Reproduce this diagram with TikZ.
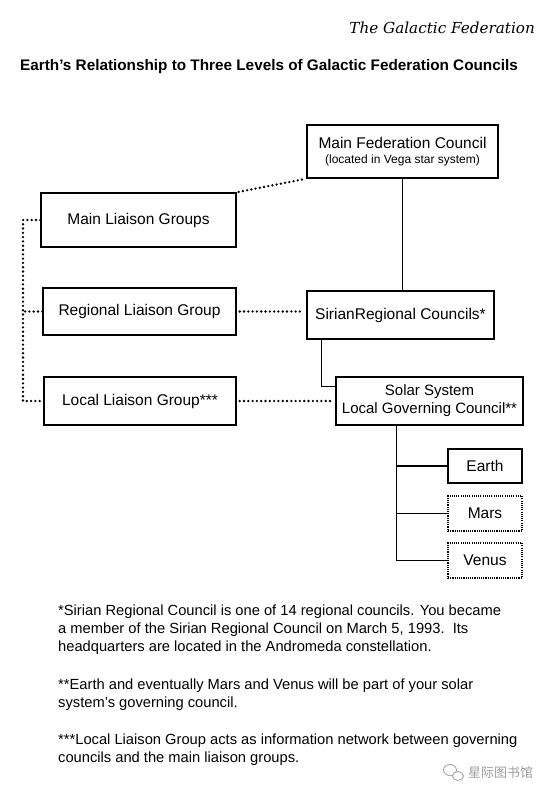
\documentclass[tikz,border=0pt]{standalone}
\usepackage{fontspec}
\setmainfont{Liberation Sans}
\newfontfamily\hdrfont{DejaVu Serif}
\newfontfamily\cjkfont{Noto Sans CJK SC}
\usetikzlibrary{calc}
\begin{document}
\begin{tikzpicture}[x=1pt,y=-1pt]
\tikzset{
 box/.style={draw, line width=1.4pt, rectangle, inner sep=0pt, align=center,
   font=\fontsize{15.5}{18}\selectfont},
 dotbox/.style={box, line width=1.1pt, dash pattern=on 1.1pt off 1.1pt},
 dotline/.style={line width=2.6pt, dash pattern=on 0pt off 4.3pt, line cap=round},
 link/.style={line width=1.4pt},
 fn/.style={anchor=base west, inner sep=0pt, font=\fontsize{14.7}{17}\selectfont},
}
\useasboundingbox[fill=white] (0,0) rectangle (554,797);

% header
\node[anchor=base east, inner sep=0pt, font=\hdrfont\itshape\fontsize{15.2}{18}\selectfont] (hdr) at (535,34) {The Galactic Federation};
\node[anchor=base, inner sep=0pt, font=\bfseries\fontsize{15.3}{18}\selectfont] (title) at (269,71) {Earth's Relationship to Three Levels of Galactic Federation Councils};

% boxes
\node[box, minimum width=191pt, minimum height=53pt] (mfc) at (402.5,151.5)
  {Main Federation Council\\[-3pt]{\fontsize{12}{14}\selectfont(located in Vega star system)}};
\node[box, minimum width=195pt, minimum height=54pt] (ml) at (138.5,220) {Main Liaison Groups};
\node[box, minimum width=193pt, minimum height=47pt] (rl) at (139.5,311.5) {Regional Liaison Group};
\node[box, minimum width=187pt, minimum height=48pt] (sir) at (400.5,315) {SirianRegional Councils*};
\node[box, minimum width=187pt, minimum height=48pt, font=\fontsize{15}{18}\selectfont] (sol) at (429.5,401) {Solar System\\Local Governing Council**};
\node[box, minimum width=192pt, minimum height=48pt] (loc) at (140,401) {Local Liaison Group***};
\node[box, minimum width=74pt, minimum height=34pt] (earth) at (485,466) {Earth};
\node[dotbox, minimum width=74pt, minimum height=35pt] (mars) at (485,513.5) {Mars};
\node[dotbox, minimum width=74pt, minimum height=35pt] (venus) at (485,560.5) {Venus};

% connectors
\draw[dotline, shorten <=2pt, shorten >=2pt] (ml.north east) -- (mfc.south west);
\draw[link] (mfc.south) -- (mfc.south |- sir.north);
\draw[dotline, shorten <=3pt, shorten >=3pt] (rl.east) -- (rl.east -| sir.west);
\coordinate (sirfoot) at ($(sir.south west)+(15,0)$);
\coordinate (solhead) at ($(sol.north west)+(0,10)$);
\draw[link] (sirfoot) |- (solhead);
\draw[dotline, shorten <=3pt, shorten >=3pt] (loc.east) -- (sol.west);
\coordinate (bus) at (23,220);
\draw[dotline] (ml.west) -- (bus) |- (loc.west);
\draw[dotline] (rl.west) -- (rl.west -| bus);
\coordinate (trunk) at ($(sol.south west)+(61,0)$);
\draw[link] (trunk) |- (venus.west);
\draw[link] (trunk |- earth.west) -- (earth.west);
\draw[link] (trunk |- mars.west) -- (mars.west);

% footnotes
\node[fn] (f1a) at (58,615) {*Sirian Regional Council is one of 14 regional councils. You became};
\node[fn] (f1b) at (58,633) {a member of the Sirian Regional Council on March 5, 1993.\ \ Its};
\node[fn] (f1c) at (58,651) {headquarters are located in the Andromeda constellation.};
\node[fn] (f2a) at (58,689) {**Earth and eventually Mars and Venus will be part of your solar};
\node[fn] (f2b) at (58,707) {system's governing council.};
\node[fn] (f3a) at (58,744) {***Local Liaison Group acts as information network between governing};
\node[fn] (f3b) at (58,762) {councils and the main liaison groups.};

% watermark
\draw[gray!70, line width=0.9pt] (450,770) ellipse [x radius=6.5pt, y radius=5.5pt];
\draw[gray!70, line width=0.9pt, fill=white] (458,776) ellipse [x radius=5.5pt, y radius=4.5pt];
\node[anchor=west, inner sep=0pt, text=gray!75, font=\cjkfont\fontsize{13}{15}\selectfont] (wm) at (468,773) {星际图书馆};
\end{tikzpicture}
\end{document}
